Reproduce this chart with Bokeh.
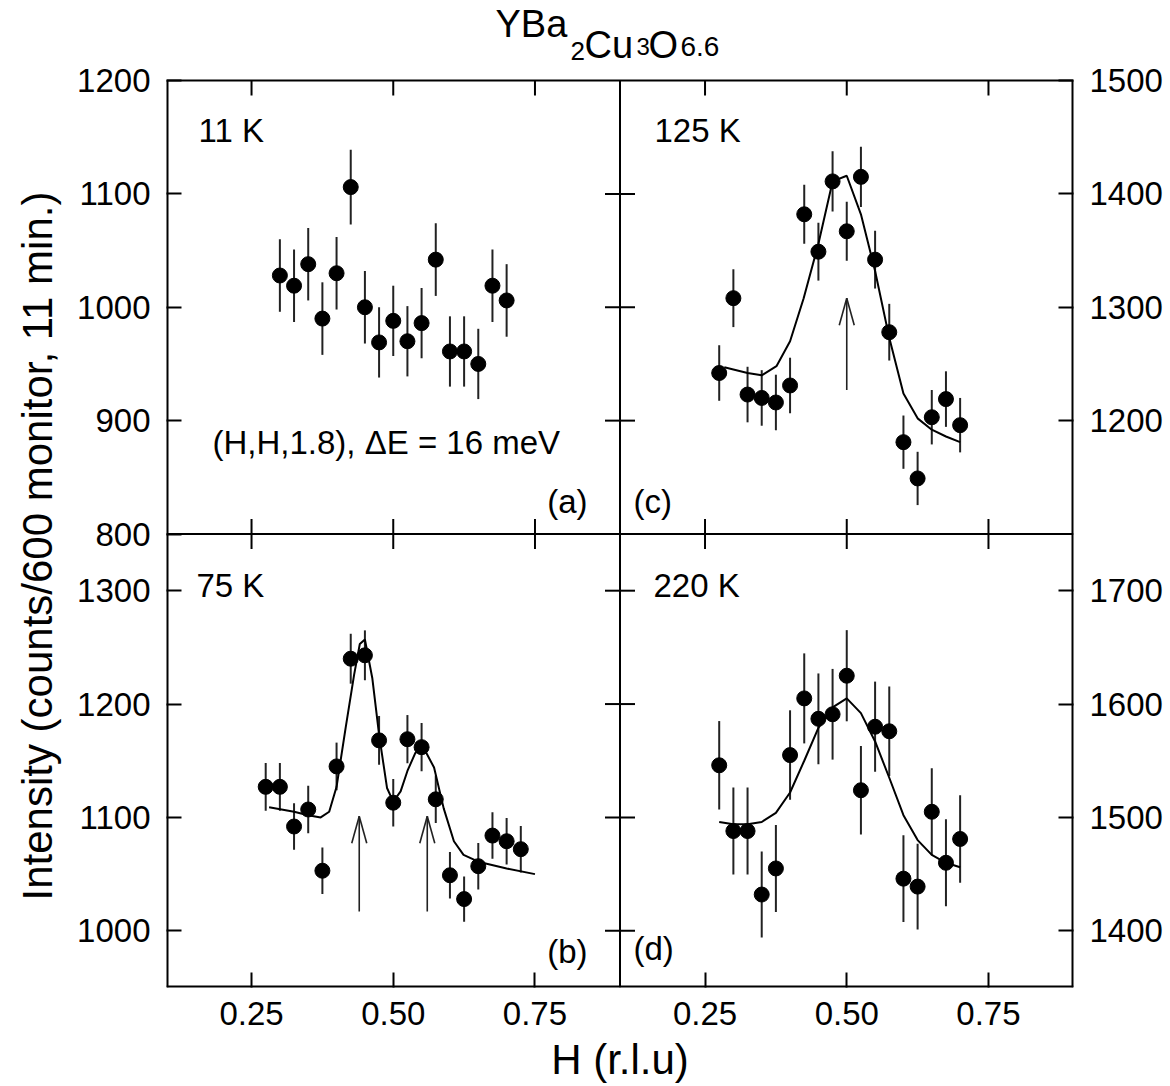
import math
from bokeh.plotting import figure
from bokeh.models import Range1d, FixedTicker, Span, ColumnDataSource, Title, LinearAxis
from bokeh.embed import file_html
from bokeh.resources import INLINE
from bokeh.core.properties import value

FONT = "Liberation Sans"

# ---------------- data ----------------
# (a) 11 K
h_a = [0.300, 0.325, 0.350, 0.375, 0.400, 0.425, 0.450, 0.475, 0.500, 0.525, 0.550, 0.575, 0.600, 0.625, 0.650, 0.675, 0.700]
I_a = [1028, 1019, 1038, 990, 1030, 1106, 1000, 969, 988, 970, 986, 1042, 961, 961, 950, 1019, 1006]
e_a = [32, 32, 32, 32, 32, 33, 32, 31, 31, 31, 31, 32, 31, 31, 31, 32, 32]

# (b) 75 K
h_b = [0.275, 0.300, 0.325, 0.350, 0.375, 0.400, 0.425, 0.450, 0.475, 0.500, 0.525, 0.550, 0.575, 0.600, 0.625, 0.650, 0.675, 0.700, 0.725]
I_b = [1127, 1127, 1092, 1107, 1053, 1145, 1240, 1243, 1168, 1113, 1169, 1162, 1116, 1049, 1028, 1057, 1084, 1079, 1072]
e_b = [21, 21, 20.5, 21, 20.5, 21, 22, 22, 21.5, 21, 21.3, 21.3, 21, 20.5, 20, 20.5, 20.5, 20.5, 20.5]
fit_b_h = [0.281, 0.325, 0.350, 0.372, 0.387, 0.400, 0.416, 0.431, 0.441, 0.450, 0.463, 0.475, 0.489, 0.500,
           0.513, 0.525, 0.539, 0.554, 0.572, 0.589, 0.607, 0.624, 0.650, 0.700, 0.750]
fit_b_I = [1109, 1105, 1102, 1100, 1105, 1127, 1179, 1226, 1253, 1257, 1223, 1173, 1126, 1114,
           1123, 1141, 1157, 1161, 1144, 1108, 1079, 1067, 1061, 1055, 1050]
arrow_b_h = [0.44, 0.56]
arrow_b_tip = [1101, 1101]
arrow_b_base = [1017, 1017]

# (c) 125 K
h_c = [0.275, 0.300, 0.325, 0.350, 0.375, 0.400, 0.425, 0.450, 0.475, 0.500, 0.525, 0.550, 0.575, 0.600, 0.625, 0.650, 0.675, 0.700]
I_c = [1242, 1308, 1223, 1220, 1216, 1231, 1382, 1349, 1411, 1367, 1415, 1342, 1278, 1181, 1149, 1203, 1219, 1196]
e_c = [24.5, 25.5, 24.5, 24.5, 24.5, 24.5, 26, 25.5, 26.5, 26, 26.5, 25.5, 25, 23.5, 23.5, 24, 24.5, 24]
fit_c_h = [0.284, 0.325, 0.350, 0.376, 0.400, 0.424, 0.450, 0.475, 0.500, 0.525, 0.550, 0.575, 0.600, 0.625, 0.650, 0.675, 0.700]
fit_c_I = [1247, 1242, 1240, 1248, 1270, 1308, 1356, 1411, 1416, 1382, 1332, 1273, 1224, 1202, 1192, 1186, 1181]
arrow_c_h = [0.50]
arrow_c_tip = [1308]
arrow_c_base = [1227]

# (d) 220 K
h_d = [0.275, 0.300, 0.325, 0.350, 0.375, 0.400, 0.425, 0.450, 0.475, 0.500, 0.525, 0.550, 0.575, 0.600, 0.625, 0.650, 0.675, 0.700]
I_d = [1546, 1488, 1488, 1432, 1455, 1555, 1605, 1587, 1591, 1625, 1524, 1580, 1576, 1446, 1439, 1505, 1460, 1481]
e_d = [39, 38.3, 38.3, 38, 38.3, 39.5, 39.7, 40, 40, 40.2, 39, 39.8, 39.5, 38.3, 37.9, 38.3, 38.3, 38.5]
fit_d_h = [0.275, 0.300, 0.325, 0.350, 0.375, 0.400, 0.425, 0.450, 0.475, 0.500, 0.525, 0.550, 0.575, 0.600, 0.625, 0.650, 0.675, 0.700]
fit_d_I = [1496, 1494, 1494, 1496, 1504, 1522, 1550, 1579, 1597, 1605, 1592, 1567, 1535, 1502, 1480, 1467, 1460, 1456]

# axes / ticks
x_ticks = [0.25, 0.50, 0.75]
x_tick_labels = ["0.25", "0.50", "0.75"]
y_ticks_a = [800, 900, 1000, 1100, 1200]
y_ticks_b = [1000, 1100, 1200, 1300]
y_ticks_c = [1200, 1300, 1400, 1500]
y_ticks_d = [1400, 1500, 1600, 1700]
inner_ticks_a = [900, 1000, 1100]
inner_ticks_b = [1000, 1100, 1200, 1300]

x_lim = (0.1, 0.9)
y_lim_a = (800, 1200)
y_lim_b = (950, 1350)
y_lim_c = (1100, 1500)
y_lim_d = (1350, 1750)

temps = ["11 K", "75 K", "125 K", "220 K"]
tags = ["(a)", "(b)", "(c)", "(d)"]
note = "(H,H,1.8), \u0394E = 16 meV"
ylabel = "Intensity (counts/600 monitor, 11 min.)"
xlabel = "H (r.l.u)"
title_parts = ["YBa", "2", "Cu", "3", "O", "6.6"]

# ---------------- layout ----------------
W, H = 1170, 1086
BL = 166
FW = 907
BR = W - BL - FW
PANEL_TOP = 80          # px of frame above the panels (holds the formula)
PH = 453.5              # height of one panel row, px
FH = PANEL_TOP + 2 * PH
BB = int(round(H - FH))
BASE_SHIFT = 0.4        # text baseline correction (fraction of font size)
TICK_PX = 15

xs = x_lim[1] - x_lim[0]
left_x = Range1d(x_lim[0], x_lim[0] + 2 * xs)
right_x = Range1d(x_lim[1] - 2 * xs, x_lim[1])


def top_range(lim):
    span = lim[1] - lim[0]
    return Range1d(lim[0] - span, lim[1] + span * PANEL_TOP / PH)


def bottom_range(lim):
    span = lim[1] - lim[0]
    return Range1d(lim[0], lim[0] + span * FH / PH)


rA, rB, rC, rD = top_range(y_lim_a), bottom_range(y_lim_b), top_range(y_lim_c), bottom_range(y_lim_d)


def remap(v, src, dst):
    f = (v - src.start) / (src.end - src.start)
    return dst.start + f * (dst.end - dst.start)


p = figure(width=W, height=H, x_range=Range1d(left_x.start, left_x.end),
           y_range=Range1d(rA.start, rA.end),
           output_backend="svg", toolbar_location=None, title=None,
           min_border_left=BL, min_border_right=BR, min_border_top=0, min_border_bottom=BB)
p.extra_x_ranges = {"L": left_x, "R": right_x}
p.extra_y_ranges = {"A": rA, "B": rB, "C": rC, "D": rD}
p.grid.visible = False
p.outline_line_color = None
p.background_fill_color = "white"
p.border_fill_color = "white"


def mx(px):
    return p.x_range.start + (px - BL) / FW * (p.x_range.end - p.x_range.start)


def my(py):
    return p.y_range.end - py / FH * (p.y_range.end - p.y_range.start)


def style_axis(ax, ticks, labels, standoff=12):
    ax.ticker = FixedTicker(ticks=ticks, minor_ticks=[])
    ax.major_label_overrides = dict(zip(ticks, labels))
    ax.major_tick_in = TICK_PX
    ax.major_tick_out = 0
    ax.major_tick_line_width = 2
    ax.major_tick_line_color = "black"
    ax.minor_tick_line_color = None
    ax.axis_line_color = None
    ax.major_label_text_font = FONT
    ax.major_label_text_font_size = "33px"
    ax.major_label_text_color = "black"
    ax.major_label_standoff = standoff


# bottom axis: left half ticks + right half ticks mapped to main x
xt_main = list(x_ticks) + [remap(t, right_x, p.x_range) for t in x_ticks]
xl_main = list(x_tick_labels) * 2
style_axis(p.xaxis[0], xt_main, xl_main, standoff=14)
p.xaxis[0].axis_label = xlabel
p.xaxis[0].axis_label_text_font = FONT
p.xaxis[0].axis_label_text_font_size = "42px"
p.xaxis[0].axis_label_text_font_style = "normal"
p.xaxis[0].axis_label_text_color = "black"
p.xaxis[0].axis_label_standoff = 8

# left axis: panel (a) + panel (b) ticks
yl_main = list(y_ticks_a) + [remap(t, rB, p.y_range) for t in y_ticks_b]
yl_lab = [str(t) for t in y_ticks_a] + [str(t) for t in y_ticks_b]
style_axis(p.yaxis[0], yl_main, yl_lab, standoff=16)

# right axis: panel (c) + panel (d) ticks
yr_main = list(y_ticks_c) + [remap(t, rD, rC) for t in y_ticks_d]
yr_lab = [str(t) for t in y_ticks_c] + [str(t) for t in y_ticks_d]
right_ax = LinearAxis(y_range_name="C")
style_axis(right_ax, yr_main, yr_lab, standoff=16)
p.add_layout(right_ax, "right")

# y axis title (spans both rows)
p.add_layout(Title(text=ylabel, align="left", vertical_align="top", offset=87, standoff=24,
                   text_font=FONT, text_font_size="42px", text_font_style="normal",
                   text_color="black"), "left")

# ---------------- panel box, dividers and inner ticks ----------------
box_kw = dict(line_color="black")
# outer edges lying on the frame edge (half of the line is clipped -> 2px visible)
p.segment(x0=[x_lim[0]], y0=[rA.start], x1=[x_lim[0]], y1=[y_lim_a[1]], line_width=4,
          x_range_name="L", y_range_name="A", **box_kw)
p.segment(x0=[x_lim[1]], y0=[rC.start], x1=[x_lim[1]], y1=[y_lim_c[1]], line_width=4,
          x_range_name="R", y_range_name="C", **box_kw)
p.segment(x0=[left_x.start], y0=[rA.start], x1=[left_x.end], y1=[rA.start], line_width=4,
          x_range_name="L", y_range_name="A", **box_kw)
# top edge and dividers (interior)
p.segment(x0=[left_x.start], y0=[y_lim_a[1]], x1=[left_x.end], y1=[y_lim_a[1]], line_width=2,
          x_range_name="L", y_range_name="A", **box_kw)
p.segment(x0=[x_lim[1]], y0=[rA.start], x1=[x_lim[1]], y1=[y_lim_a[1]], line_width=2,
          x_range_name="L", y_range_name="A", **box_kw)
p.add_layout(Span(location=y_lim_a[0], dimension="width", line_color="black", line_width=2))

# ticks hanging from the top edge
for xr, lim_y, yr in (("L", y_lim_a, "A"), ("R", y_lim_c, "C")):
    dy = TICK_PX * (lim_y[1] - lim_y[0]) / PH
    p.segment(x0=x_ticks, y0=[lim_y[1]] * len(x_ticks), x1=x_ticks, y1=[lim_y[1] - dy] * len(x_ticks),
              line_width=2, x_range_name=xr, y_range_name=yr, **box_kw)

# ticks on both sides of the dividers
tick_kw = dict(marker="dash", size=2 * TICK_PX, line_color="black", line_width=2)
for xr, lim_y, yr in (("L", y_lim_a, "A"), ("R", y_lim_c, "C")):
    p.scatter(x=x_ticks, y=[lim_y[0]] * len(x_ticks), angle=math.pi / 2,
              x_range_name=xr, y_range_name=yr, **tick_kw)
p.scatter(x=[x_lim[1]] * len(inner_ticks_a), y=inner_ticks_a, x_range_name="L", y_range_name="A", **tick_kw)
p.scatter(x=[x_lim[1]] * len(inner_ticks_b), y=inner_ticks_b, x_range_name="L", y_range_name="B", **tick_kw)

# ---------------- panels ----------------
PX_PER_X = (FW / 2) / xs
HEAD_HALF_W_PX, HEAD_LEN_PX = 7.5, 27


def draw_panel(xr, yr, h, I, e, fit_h=None, fit_I=None, ah=None, atip=None, abase=None, ylim=None):
    src = ColumnDataSource(dict(h=h, I=I, lo=[v - d for v, d in zip(I, e)], hi=[v + d for v, d in zip(I, e)]))
    p.segment(x0="h", y0="lo", x1="h", y1="hi", source=src, line_color="#222222", line_width=2,
              x_range_name=xr, y_range_name=yr)
    if fit_h is not None:
        p.line(fit_h, fit_I, line_color="black", line_width=2, x_range_name=xr, y_range_name=yr)
    p.scatter(x="h", y="I", source=src, size=15, fill_color="black", line_color="black",
              x_range_name=xr, y_range_name=yr)
    if ah is not None:
        px_per_y = PH / (ylim[1] - ylim[0])
        dx = HEAD_HALF_W_PX / PX_PER_X
        dy = HEAD_LEN_PX / px_per_y
        p.segment(x0=ah, y0=abase, x1=ah, y1=atip, line_color="#222222", line_width=1.6,
                  x_range_name=xr, y_range_name=yr)
        for s in (-1, 1):
            p.segment(x0=ah, y0=atip, x1=[a + s * dx for a in ah], y1=[t - dy for t in atip],
                      line_color="#222222", line_width=1.6, x_range_name=xr, y_range_name=yr)


draw_panel("L", "A", h_a, I_a, e_a)
draw_panel("L", "B", h_b, I_b, e_b, fit_b_h, fit_b_I, arrow_b_h, arrow_b_tip, arrow_b_base, y_lim_b)
draw_panel("R", "C", h_c, I_c, e_c, fit_c_h, fit_c_I, arrow_c_h, arrow_c_tip, arrow_c_base, y_lim_c)
draw_panel("R", "D", h_d, I_d, e_d, fit_d_h, fit_d_I)


def ptext(text, px, py, size=33, align="left"):
    p.text(x=[mx(px)], y=[my(py - BASE_SHIFT * size)], text=[text], text_font=value(FONT),
           text_font_size=f"{size}px", text_align=align, text_baseline="alphabetic", text_color="black")


# panel texts (page pixel positions of the baselines)
ptext(temps[0], 198, 143)
ptext(temps[2], 654, 143)
ptext(temps[1], 196, 598)
ptext(temps[3], 653, 598)
ptext(note, 212, 455)
ptext(tags[0], 587, 514, align="right")
ptext(tags[2], 633, 514)
ptext(tags[1], 587, 964, align="right")
ptext(tags[3], 633, 961)

# formula title above the panels
title_pos = [(495, 39, 38), (570, 61, 26), (584, 60, 38), (636, 56, 24), (648, 60, 38), (680, 57, 28)]
for part, (px, py, sz) in zip(title_parts, title_pos):
    ptext(part, px, py, size=sz)

open("out.html", "w").write(file_html(p, INLINE))
